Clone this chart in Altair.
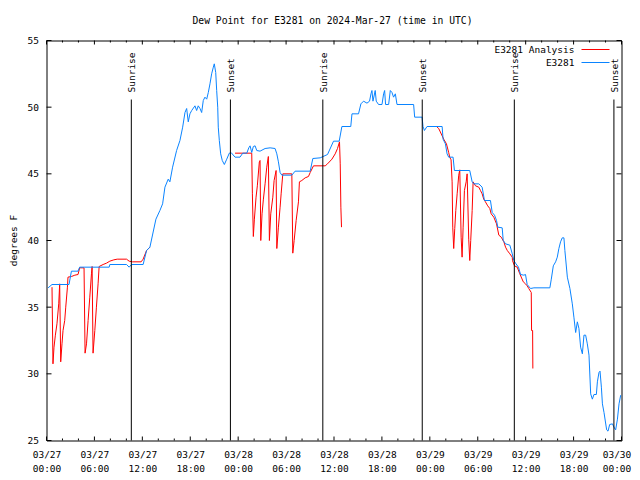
import altair as alt
import pandas as pd

FONT = "DejaVu Sans Mono"
FS = 9.5

# ---- data: hours since 2024-03-27 00:00 UTC, dew point (F) ----
blue_h = [0.2, 0.69, 2.82, 3.12, 3.95, 4.15, 7.85, 7.93, 10.02, 10.35, 10.65, 12.1, 12.53, 12.95,
          13.7, 14.2, 14.54, 14.83, 15.24, 15.45, 15.79, 16.29, 16.71, 17.05, 17.34, 17.55, 17.75,
          17.96, 18.18, 18.59, 18.8, 19.0, 19.22, 19.43, 19.63, 19.84, 20.06, 20.26, 20.47, 20.68,
          20.89, 21.01, 21.19, 21.31, 21.44, 21.51, 21.64, 21.81, 22.01, 22.27, 22.57, 22.89, 23.11,
          23.61, 24.23, 24.57, 25.08, 25.33, 25.49, 25.7, 25.9, 26.12, 26.33, 26.74, 27.37, 28.0,
          28.62, 28.84, 29.04, 29.25, 29.47, 30.72, 31.13, 33.02, 33.35, 34.27, 35.19, 35.94, 36.65,
          36.99, 38.1, 38.25, 39.07, 39.37, 39.7, 40.13, 40.45, 40.63, 40.75, 40.88, 41.16, 41.29,
          41.58, 42.01, 42.21, 42.34, 42.46, 42.84, 43.05, 43.26, 43.46, 43.68, 43.89, 45.97, 46.1,
          47.03, 47.15, 47.32, 47.65, 49.54, 49.66, 49.95, 50.16, 50.36, 50.91, 51.08, 53.0, 53.3,
          53.5, 54.13, 54.55, 54.84, 55.59, 55.81, 56.1, 56.35, 56.51, 57.06, 57.19, 57.48, 58.02,
          58.32, 58.52, 58.73, 59.1, 59.36, 59.77, 59.98, 60.19, 60.61, 61.03, 63.03, 63.21, 63.46,
          63.75, 63.96, 64.16, 64.37, 64.58, 64.79, 64.91, 65.22, 65.54, 65.84, 66.04, 66.26, 66.47,
          66.67, 66.88, 67.1, 67.3, 67.51, 67.72, 67.93, 68.14, 68.35, 68.55, 68.85, 68.98, 69.18,
          69.31, 69.48, 69.61, 69.81, 70.14, 70.31, 70.52, 70.86, 71.06, 71.27, 71.49, 71.69, 71.9]
blue_v = [36.45, 36.7, 36.7, 37.7, 37.7, 38.0, 38.0, 38.2, 38.2, 38.0, 38.2, 38.2, 39.25, 39.5,
          41.6, 42.25, 42.75, 44.0, 44.6, 44.4, 45.5, 46.75, 47.5, 48.5, 49.6, 49.9, 48.9,
          49.5, 49.75, 50.1, 49.75, 50.1, 49.9, 49.6, 50.5, 50.75, 50.6, 51.1, 51.75, 52.5,
          53.0, 53.25, 52.6, 51.25, 50.0, 48.5, 47.5, 46.5, 46.0, 45.7, 46.1, 46.55, 46.6,
          46.25, 46.25, 46.55, 46.55, 46.95, 47.1, 46.6, 47.05, 47.1, 46.75, 46.7, 46.9, 46.95,
          46.9, 46.5, 45.9, 45.1, 44.9, 44.9, 45.2, 45.2, 46.15, 46.2, 46.45, 47.45, 47.45,
          48.55, 48.55, 49.5, 49.5, 50.25, 50.45, 50.3, 50.45, 51.0, 51.25, 50.45, 51.25, 50.45,
          50.2, 50.2, 51.0, 51.25, 50.2, 50.2, 51.25, 51.1, 50.75, 51.0, 50.2, 50.2, 49.25,
          49.25, 48.55, 48.25, 48.55, 48.55, 47.6, 47.25, 46.5, 46.25, 46.25, 45.25, 45.25, 44.4,
          44.25, 44.25, 44.0, 43.0, 43.0, 42.1, 41.9, 41.5, 41.0, 40.95, 40.0, 39.75, 39.65,
          39.0, 38.5, 38.3, 38.0, 37.45, 37.4, 37.45, 36.7, 36.4, 36.45, 36.45, 37.1, 38.1,
          38.4, 38.75, 39.4, 39.9, 40.2, 40.2, 39.25, 37.25, 36.4, 35.25, 34.25, 33.1, 33.9,
          33.4, 32.0, 31.5, 32.9, 32.9, 32.25, 31.4, 28.5, 28.1, 28.45, 28.45, 29.4, 30.1,
          30.2, 29.0, 27.75, 27.1, 25.8, 25.7, 26.2, 26.25, 26.0, 25.8, 26.6, 27.75, 28.4]

red1_h = [0.69, 0.81, 0.94, 1.11, 1.31, 1.53, 1.65, 1.78, 1.94, 2.07, 2.28, 2.41, 2.62, 2.69,
          3.12, 3.55, 3.95, 4.15, 4.7, 4.83, 5.01, 5.21, 5.42, 5.63, 5.71, 5.83, 6.05, 6.25,
          6.46, 6.59, 7.09, 7.51, 7.93, 8.43, 8.85, 10.02, 10.35, 10.77, 11.85, 12.1, 12.53, 12.95]
red1_v = [36.5, 30.75, 32.0, 32.9, 33.75, 35.25, 36.75, 30.9, 32.25, 33.25, 34.0, 35.0, 36.5, 37.25,
          37.3, 37.4, 37.45, 37.95, 37.95, 31.55, 32.25, 34.0, 35.75, 37.5, 38.05, 31.55, 33.25, 35.0,
          36.75, 38.05, 38.2, 38.3, 38.45, 38.55, 38.6, 38.6, 38.45, 38.4, 38.4, 38.6, 39.25, 39.5]

red2_h = [23.61, 25.7, 25.78, 25.9, 26.03, 26.24, 26.4, 26.65, 26.74, 26.83, 26.99, 27.16, 27.37,
          27.58, 27.78, 27.91, 28.08, 28.34, 28.5, 28.75, 28.84, 29.04, 29.25, 29.38, 29.59, 30.72,
          30.84, 31.01, 31.26, 31.55, 31.67, 31.97, 32.39, 32.8, 33.02, 33.43, 34.9, 35.19, 35.74,
          36.15, 36.44, 36.69, 36.78, 36.86, 36.94]
red2_v = [46.55, 46.55, 43.5, 40.3, 41.6, 43.25, 44.1, 45.9, 46.0, 40.0, 42.0, 43.1, 44.25,
          45.5, 46.3, 40.0, 42.0, 43.25, 44.5, 45.25, 39.4, 41.0, 42.5, 43.5, 45.0, 45.0,
          39.05, 40.0, 41.5, 42.9, 44.4, 44.5, 44.7, 44.8, 45.1, 45.6, 45.6, 45.75, 46.1,
          46.5, 46.9, 47.4, 45.75, 42.5, 41.0]

red3_h = [48.91, 49.11, 49.74, 50.08, 50.36, 50.49, 50.66, 50.79, 50.87, 50.99, 51.12, 51.25, 51.42,
          51.62, 51.75, 51.92, 52.04, 52.17, 52.33, 52.55, 52.67, 52.87, 53.0, 53.12, 53.3, 53.42,
          53.72, 54.13, 54.34, 54.55, 54.75, 54.96, 55.25, 55.51, 55.68, 56.01, 56.35, 56.64, 56.94,
          57.27, 57.48, 57.7, 58.02, 58.32, 58.35, 58.6, 58.94, 59.27, 59.7, 59.98, 60.19, 60.39,
          60.7, 60.74, 60.87, 60.9]
red3_v = [48.5, 48.4, 47.6, 47.25, 46.6, 46.25, 46.05, 44.4, 41.0, 39.4, 40.9, 42.25, 43.5,
          44.9, 45.3, 40.25, 38.75, 41.0, 43.75, 44.4, 45.0, 40.1, 38.5, 40.0, 42.25, 44.4,
          44.1, 44.0, 43.75, 43.5, 43.1, 42.9, 42.6, 42.4, 42.0, 41.75, 41.25, 40.4, 40.25,
          39.9, 39.5, 39.25, 39.0, 38.75, 38.5, 38.1, 38.0, 37.5, 36.9, 36.75, 36.6, 36.4,
          36.1, 33.25, 33.25, 30.4]

sun_h = [10.62, 23.03, 34.6, 47.05, 58.58, 71.05]
sun_label = ["Sunrise", "Sunset", "Sunrise", "Sunset", "Sunrise", "Sunset"]

x_tick_values = list(range(0, 73, 6))
x_minor_values = [h for h in range(0, 73, 2) if h % 6 != 0]
y_tick_values = [25, 30, 35, 40, 45, 50, 55]

legend_labels = ["E3281 Analysis", "E3281"]
RED = "#ff0000"
BLUE = "#0a84ff"
legend_colors = [RED, BLUE]
title_text = "Dew Point for E3281 on 2024-Mar-27 (time in UTC)"
y_title = "degrees F"

W, H = 575, 400

blue_df = pd.DataFrame({"h": blue_h, "v": blue_v})
red_df = pd.concat([
    pd.DataFrame({"h": red1_h, "v": red1_v, "seg": 1}),
    pd.DataFrame({"h": red2_h, "v": red2_v, "seg": 2}),
    pd.DataFrame({"h": red3_h, "v": red3_v, "seg": 3}),
], ignore_index=True)
sun_df = pd.DataFrame({"h": sun_h, "label": sun_label})
xt_df = pd.DataFrame({"h": x_tick_values})
xm_df = pd.DataFrame({"h": x_minor_values})
yt_df = pd.DataFrame({"v": y_tick_values})

x_scale = alt.Scale(domain=[0, 72], nice=False, zero=False)
y_scale = alt.Scale(domain=[25, 55], nice=False, zero=False)

x_axis = alt.Axis(
    values=x_tick_values,
    labelExpr="['03/' + (27 + floor(datum.value / 24)), (datum.value % 24 < 10 ? '0' : '') + (datum.value % 24) + ':00']",
    ticks=False, domain=False, grid=False, title=None,
    labelFont=FONT, labelFontSize=FS, labelColor="black", labelPadding=9,
    labelLineHeight=14, labelFlush=False, labelOverlap=False,
    labelOffset={"condition": {"test": "datum.value == 72", "value": -5}, "value": 0},
)
y_axis = alt.Axis(
    values=y_tick_values, ticks=False, domain=False, grid=False, title=None,
    labelFont=FONT, labelFontSize=FS, labelColor="black", labelPadding=8,
    labelFlush=False, labelOverlap=False,
)

X = alt.X("h:Q", scale=x_scale, axis=x_axis)
Y = alt.Y("v:Q", scale=y_scale, axis=y_axis)

red_line = alt.Chart(red_df).mark_line(color=RED, strokeWidth=1).encode(x=X, y=Y, detail="seg:N")
blue_line = alt.Chart(blue_df).mark_line(color=BLUE, strokeWidth=1).encode(x=X, y=Y)

sun_rule = alt.Chart(sun_df).mark_rule(color="black", strokeWidth=1).encode(
    x=alt.X("h:Q", scale=x_scale), y=alt.value(59), y2=alt.value(H))
sun_text = alt.Chart(sun_df).mark_text(
    angle=270, align="left", baseline="middle", font=FONT, fontSize=FS, color="black", dy=1
).encode(x=alt.X("h:Q", scale=x_scale), y=alt.value(52), text="label:N")

def xticks(df, length):
    bottom = alt.Chart(df).mark_rule(color="black", strokeWidth=1).encode(
        x=alt.X("h:Q", scale=x_scale), y=alt.value(H), y2=alt.value(H - length))
    top = alt.Chart(df).mark_rule(color="black", strokeWidth=1).encode(
        x=alt.X("h:Q", scale=x_scale), y=alt.value(0), y2=alt.value(length))
    return [bottom, top]

yt_left = alt.Chart(yt_df).mark_rule(color="black", strokeWidth=1).encode(
    y=alt.Y("v:Q", scale=y_scale), x=alt.value(0), x2=alt.value(5))
yt_right = alt.Chart(yt_df).mark_rule(color="black", strokeWidth=1).encode(
    y=alt.Y("v:Q", scale=y_scale), x=alt.value(W), x2=alt.value(W - 5))

legend_layers = []
for i, (lab, col) in enumerate(zip(legend_labels, legend_colors)):
    ypix = 9 + i * 13
    ldf = pd.DataFrame({"label": [lab]})
    legend_layers.append(alt.Chart(ldf).mark_text(
        align="right", baseline="middle", font=FONT, fontSize=FS, color="black"
    ).encode(x=alt.value(528), y=alt.value(ypix), text="label:N"))
    legend_layers.append(alt.Chart(ldf).mark_rule(color=col, strokeWidth=1).encode(
        x=alt.value(535), x2=alt.value(563), y=alt.value(ypix)))

title_df = pd.DataFrame({"t": [title_text]})
title = alt.Chart(title_df).mark_text(
    align="center", baseline="middle", font=FONT, fontSize=9.7, color="black"
).encode(x=alt.value(286), y=alt.value(-20), text="t:N")
ytitle_df = pd.DataFrame({"t": [y_title]})
ytitle = alt.Chart(ytitle_df).mark_text(
    align="center", baseline="middle", font=FONT, fontSize=FS, color="black", angle=270
).encode(x=alt.value(-33), y=alt.value(200), text="t:N")

chart = alt.layer(
    red_line, blue_line, sun_rule, sun_text,
    *xticks(xt_df, 4), *xticks(xm_df, 2), yt_left, yt_right,
    *legend_layers, title, ytitle,
).properties(
    width=W, height=H,
    padding={"left": 38.5, "top": 32.5, "right": 10, "bottom": 34},
    autosize=alt.AutoSizeParams(type="none"),
    background="white",
).configure_view(stroke="black", strokeWidth=1)

chart.save("out.html", embed_options={"renderer": "svg", "actions": False})
